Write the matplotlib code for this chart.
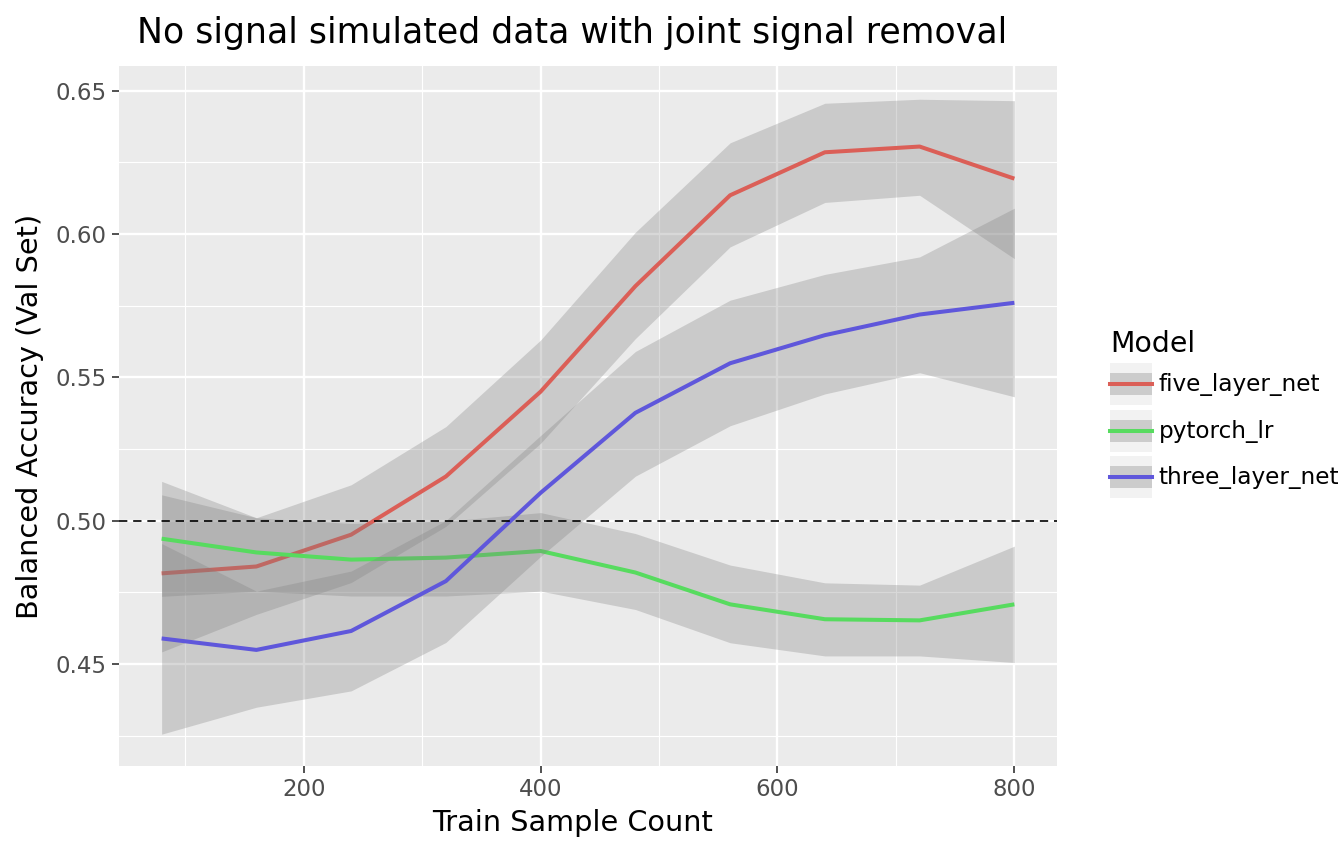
import matplotlib
matplotlib.use("Agg")
import matplotlib.pyplot as plt
from matplotlib.patches import Rectangle
from matplotlib.lines import Line2D
from matplotlib.legend_handler import HandlerBase
from matplotlib.ticker import FixedLocator

plt.rcParams['font.family'] = ['DejaVu Sans']

# ---- data ----
train_counts = [80, 160, 240, 320, 400, 480, 560, 640, 720, 800]
models = ["five_layer_net", "pytorch_lr", "three_layer_net"]

five_mean = [0.4816, 0.4840, 0.4951, 0.5154, 0.5450, 0.5818, 0.6135, 0.6285, 0.6305, 0.6193]
five_low = [0.4542, 0.4673, 0.4784, 0.4980, 0.5270, 0.5635, 0.5955, 0.6110, 0.6135, 0.5914]
five_high = [0.5090, 0.5010, 0.5125, 0.5328, 0.5630, 0.6006, 0.6318, 0.6456, 0.6470, 0.6465]

lr_mean = [0.4937, 0.4889, 0.4864, 0.4871, 0.4894, 0.4819, 0.4708, 0.4656, 0.4652, 0.4708]
lr_low = [0.4736, 0.4754, 0.4737, 0.4737, 0.4754, 0.4690, 0.4574, 0.4528, 0.4528, 0.4505]
lr_high = [0.5137, 0.5010, 0.4990, 0.4998, 0.5028, 0.4955, 0.4845, 0.4783, 0.4775, 0.4911]

three_mean = [0.4589, 0.4549, 0.4615, 0.4789, 0.5097, 0.5376, 0.5549, 0.5647, 0.5719, 0.5760]
three_low = [0.4255, 0.4349, 0.4406, 0.4575, 0.4875, 0.5155, 0.5331, 0.5442, 0.5516, 0.5432]
three_high = [0.4920, 0.4754, 0.4824, 0.5000, 0.5297, 0.5590, 0.5769, 0.5859, 0.5920, 0.6090]

chance_level = 0.5

colors = ["#db5f57", "#57db5f", "#5f57db"]
means = [five_mean, lr_mean, three_mean]
lows = [five_low, lr_low, three_low]
highs = [five_high, lr_high, three_high]

# ---- figure ----
fig = plt.figure(figsize=(13.43, 8.42), dpi=100)
ax = fig.add_axes([119/1343, 1-766/842, (1057-119)/1343, (766-66)/842])
ax.set_facecolor("#EBEBEB")
for s in ax.spines.values():
    s.set_visible(False)

ax.set_xlim(44, 836)
ax.set_ylim(0.4144, 0.6586)

ax.xaxis.set_major_locator(FixedLocator([200, 400, 600, 800]))
ax.xaxis.set_minor_locator(FixedLocator([100, 300, 500, 700]))
ax.yaxis.set_major_locator(FixedLocator([0.45, 0.50, 0.55, 0.60, 0.65]))
ax.yaxis.set_minor_locator(FixedLocator([0.425, 0.475, 0.525, 0.575, 0.625]))
ax.set_yticklabels(["0.45", "0.50", "0.55", "0.60", "0.65"])
ax.grid(which="major", color="white", lw=1.7)
ax.grid(which="minor", color="white", lw=0.85)
ax.set_axisbelow(True)
ax.tick_params(which="major", length=5, width=1.2, color="#333333",
               labelcolor="#4D4D4D", labelsize=16.5, pad=4)
ax.tick_params(which="minor", length=0)

z = 2
for m, lo, hi, c in zip(means, lows, highs, colors):
    ax.fill_between(train_counts, lo, hi, color="#7f7f7f", alpha=0.3, lw=0, zorder=z)
    ax.plot(train_counts, m, color=c, lw=2.9, zorder=z + 1, solid_capstyle="butt")
    z += 2

ax.axhline(chance_level, color="black", lw=1.2, ls=(0, (5, 3.5)), zorder=20)

ax.set_xlabel("Train Sample Count", fontsize=20.7)
ax.xaxis.set_label_coords((573-119)/938, -(809-766)/700)
ax.set_ylabel("Balanced Accuracy (Val Set)", fontsize=20.7, labelpad=8)
fig.text(572/1343, 1-33/842, "No signal simulated data with joint signal removal",
         fontsize=25.0, ha="center", va="center")


class RibbonHandler(HandlerBase):
    def create_artists(self, legend, orig_handle, xdescent, ydescent,
                       width, height, fontsize, trans):
        x0, y0 = -xdescent, -ydescent
        bg = Rectangle((x0, y0), width, height, facecolor="#F2F2F2",
                       edgecolor="none", transform=trans)
        band = Rectangle((x0, y0 + height * 0.24), width, height * 0.52,
                         facecolor="#CCCCCC", edgecolor="none", transform=trans)
        ln = Line2D([x0, x0 + width], [y0 + height / 2] * 2,
                    color=orig_handle.get_color(), lw=2.9, transform=trans)
        return [bg, band, ln]


handles = [Line2D([], [], color=c) for c in colors]
leg = fig.legend(handles, models, handler_map={Line2D: RibbonHandler()},
                 loc="upper left", bbox_to_anchor=(1108/1343, 1-328/842),
                 frameon=False, fontsize=16.7, title="Model", title_fontsize=20.4,
                 handlelength=1.78, handleheight=2.41, labelspacing=0.2,
                 handletextpad=0.3, borderpad=0.1, borderaxespad=0)
leg._legend_box.align = "left"

fig.savefig("out.png", dpi=100)
